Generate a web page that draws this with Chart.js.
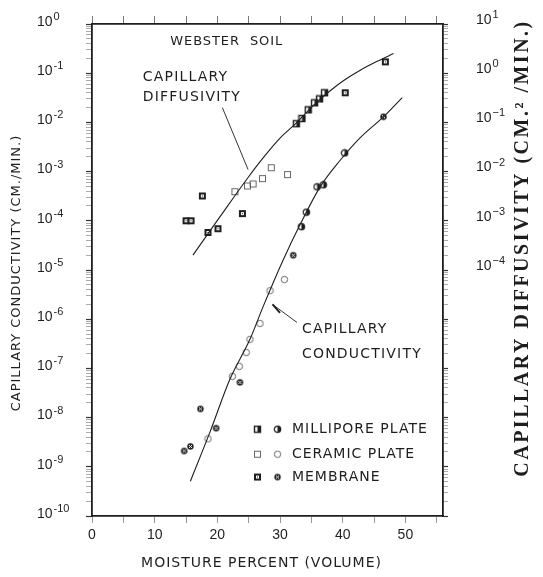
<!DOCTYPE html>
<html>
<head>
<meta charset="utf-8">
<script src="https://cdn.jsdelivr.net/npm/chart.js@4"></script>
<style>
  html, body { margin: 0; padding: 0; background: #fff; }
</style>
</head>
<body>
<canvas id="chart" width="543" height="577"></canvas>
<script>
// Webster soil, moisture percent (volume) vs capillary diffusivity / conductivity

// capillary diffusivity, cm2/min (right axis)
let diffMilliporeX = [32.6, 33.5, 34.5, 35.5, 36.3, 37.1];
let diffMilliporeY = [0.094, 0.12, 0.18, 0.25, 0.30, 0.40];
let diffCeramicX = [22.8, 24.8, 25.7, 27.2, 28.6, 31.2];
let diffCeramicY = [3.9e-3, 5.1e-3, 5.6e-3, 7.2e-3, 1.2e-2, 8.7e-3];
let diffMembraneX = [15.0, 15.8, 17.6, 18.5, 20.1, 24.0, 40.4, 46.8];
let diffMembraneY = [1.0e-3, 1.0e-3, 3.2e-3, 5.8e-4, 6.9e-4, 1.4e-3, 0.40, 1.7];

// capillary conductivity, cm/min (left axis)
let condMilliporeX = [33.4, 34.2, 35.9, 36.9, 40.3];
let condMilliporeY = [7.6e-5, 1.5e-4, 4.9e-4, 5.4e-4, 2.4e-3];
let condCeramicX = [18.5, 22.4, 23.5, 24.6, 25.2, 26.8, 28.4, 30.7];
let condCeramicY = [3.7e-9, 6.9e-8, 1.1e-7, 2.1e-7, 3.9e-7, 8.2e-7, 3.8e-6, 6.4e-6];
let condMembraneX = [14.7, 15.7, 17.3, 19.8, 23.6, 32.1, 46.5];
let condMembraneY = [2.1e-9, 2.6e-9, 1.5e-8, 6.1e-9, 5.2e-8, 2.0e-5, 1.3e-2];

// fitted curves
let diffCurveX = [16.1, 20.4, 24.9, 27.3, 30.0, 32.7, 35.3, 38.0, 40.5, 42.8, 45.5, 48.1];
let diffCurveY = [2.0e-4, 1.2e-3, 7.6e-3, 0.019, 0.048, 0.10, 0.22, 0.44, 0.76, 1.15, 1.74, 2.5];
let condCurveX = [15.7, 18.8, 22.0, 25.2, 27.3, 30.5, 33.2, 36.4, 39.6, 42.8, 46.5, 49.5];
let condCurveY = [5.1e-10, 5.0e-9, 6.0e-8, 3.9e-7, 1.8e-6, 1.6e-5, 8.4e-5, 4.9e-4, 1.7e-3, 4.9e-3, 1.3e-2, 3.2e-2];

// axis ticks
let xTicks = [0, 5, 10, 15, 20, 25, 30, 35, 40, 45, 50, 55];
let leftExps = [0, -1, -2, -3, -4, -5, -6, -7, -8, -9, -10];
let rightExps = [1, 0, -1, -2, -3, -4];
let legendNames = ['MILLIPORE PLATE', 'CERAMIC PLATE', 'MEMBRANE'];

const INK = '#1e1e1e';
const SANS = '"DejaVu Sans", sans-serif';

function pts(xs, ys) {
  return xs.map((x, i) => ({ x: x, y: ys[i] }));
}

function logTicks(lo, hi) {
  let t = [];
  for (let e = lo; e < hi; e++) {
    for (let m = 1; m < 10; m++) t.push({ value: m * Math.pow(10, e) });
  }
  t.push({ value: Math.pow(10, hi) });
  return t;
}

function isDecade(v) {
  let l = Math.log10(v);
  return Math.abs(l - Math.round(l)) < 1e-6;
}

// little glyphs for the three methods
function marker(shape, kind) {
  let c = document.createElement('canvas');
  c.width = 9; c.height = 9;
  let g = c.getContext('2d');
  g.strokeStyle = INK; g.fillStyle = INK;
  if (shape === 'square') {
    if (kind === 'ceramic') {
      g.strokeStyle = '#666'; g.lineWidth = 1;
      g.strokeRect(1.5, 1.5, 6, 6);
    } else if (kind === 'millipore') {
      g.lineWidth = 1.4;
      g.strokeRect(1.5, 1.5, 6, 6);
      g.fillRect(4.5, 2, 3, 5);
    } else {
      g.fillRect(1, 1, 7, 7);
      g.fillStyle = '#fff';
      g.fillRect(3, 3, 3, 3);
      g.fillStyle = INK;
      g.fillRect(4, 4, 1, 1);
    }
  } else {
    g.beginPath();
    g.arc(4.5, 4.5, 3.2, 0, Math.PI * 2);
    if (kind === 'ceramic') {
      g.strokeStyle = '#666'; g.lineWidth = 1;
      g.stroke();
    } else if (kind === 'millipore') {
      g.lineWidth = 1.2; g.stroke();
      g.beginPath();
      g.arc(4.5, 4.5, 3.2, -Math.PI / 2, Math.PI / 2);
      g.closePath(); g.fill();
    } else {
      g.fill();
      g.strokeStyle = '#fff'; g.lineWidth = 1;
      g.beginPath();
      g.moveTo(3, 3); g.lineTo(6, 6); g.moveTo(6, 3); g.lineTo(3, 6);
      g.stroke();
    }
  }
  return c;
}

const mk = {
  sqMillipore: marker('square', 'millipore'),
  sqCeramic: marker('square', 'ceramic'),
  sqMembrane: marker('square', 'membrane'),
  ciMillipore: marker('circle', 'millipore'),
  ciCeramic: marker('circle', 'ceramic'),
  ciMembrane: marker('circle', 'membrane')
};

function pointSet(label, data, style, axis) {
  return {
    label: label, data: data, yAxisID: axis,
    pointStyle: style, pointRadius: 4, pointHoverRadius: 4,
    showLine: false
  };
}

function curveSet(label, data, axis) {
  return {
    label: label, data: data, yAxisID: axis,
    showLine: true, pointRadius: 0, borderColor: INK, borderWidth: 1.1,
    cubicInterpolationMode: 'monotone', fill: false
  };
}

// 10 with a raised exponent, left aligned at x
function drawPow(ctx, x, y, e, minus) {
  ctx.font = '14px "Liberation Sans", sans-serif';
  ctx.textAlign = 'left';
  ctx.textBaseline = 'middle';
  ctx.fillText('10', x, y);
  let w = ctx.measureText('10').width;
  ctx.font = '11px "Liberation Sans", sans-serif';
  ctx.fillText(String(e).replace('-', minus), x + w + 1, y - 5);
}

function spaced(ctx, text, x, y, font, gap, align) {
  ctx.font = font;
  ctx.letterSpacing = gap + 'px';
  ctx.textAlign = align || 'left';
  ctx.textBaseline = 'middle';
  ctx.fillText(text, x, y);
  ctx.letterSpacing = '0px';
}

const decor = {
  id: 'decor',
  afterDraw(chart) {
    const { ctx, scales, chartArea } = chart;
    const px = v => scales.x.getPixelForValue(v);
    const py = v => scales.y.getPixelForValue(v);
    ctx.save();
    ctx.fillStyle = INK;
    ctx.strokeStyle = INK;

    leftExps.forEach(e => drawPow(ctx, chartArea.left - 55, scales.y.getPixelForValue(Math.pow(10, e)) - 2, e, '-'));
    rightExps.forEach(e => drawPow(ctx, chartArea.right + 33, scales.y2.getPixelForValue(Math.pow(10, e)) - 4, e, '\u2212'));

    // axis titles
    spaced(ctx, 'MOISTURE PERCENT (VOLUME)', (chartArea.left + chartArea.right) / 2 - 6, chartArea.bottom + 47,
      '14px ' + SANS, 1, 'center');

    ctx.save();
    ctx.translate(17, (chartArea.top + chartArea.bottom) / 2 + 3);
    ctx.rotate(-Math.PI / 2);
    spaced(ctx, 'CAPILLARY CONDUCTIVITY (CM./MIN.)', 0, 0, '13px ' + SANS, 1, 'center');
    ctx.restore();

    ctx.save();
    ctx.translate(chartArea.right + 80, (chartArea.top + chartArea.bottom) / 2 - 22);
    ctx.rotate(-Math.PI / 2);
    spaced(ctx, 'CAPILLARY DIFFUSIVITY (CM.\u00B2 /MIN.)', 0, 0, 'bold 20px "Liberation Serif", serif', 2.5, 'center');
    ctx.restore();

    // labels inside the plot
    spaced(ctx, 'WEBSTER  SOIL', px(12.5), py(0.43), '13px ' + SANS, 0.9);
    spaced(ctx, 'CAPILLARY', px(8.1), py(0.084), '14px ' + SANS, 1.2);
    spaced(ctx, 'DIFFUSIVITY', px(8.1), py(0.033), '14px ' + SANS, 1.2);
    spaced(ctx, 'CAPILLARY', px(33.5), py(6.2e-7), '14px ' + SANS, 1.2);
    spaced(ctx, 'CONDUCTIVITY', px(33.5), py(1.9e-7), '14px ' + SANS, 1.2);

    // leader lines
    ctx.lineWidth = 0.9;
    ctx.beginPath();
    ctx.moveTo(px(20.8), py(0.020));
    ctx.lineTo(px(24.9), py(1.1e-3));
    ctx.moveTo(px(32.7), py(8.6e-7));
    ctx.lineTo(px(28.8), py(2.0e-6));
    ctx.stroke();
    ctx.lineWidth = 1.8;
    ctx.beginPath();
    ctx.moveTo(px(28.8), py(2.0e-6));
    ctx.lineTo(px(30.0), py(1.35e-6));
    ctx.stroke();

    // legend
    let ly = [py(5.8e-9), py(1.8e-9), py(6.2e-10)];
    let sq = [mk.sqMillipore, mk.sqCeramic, mk.sqMembrane];
    let ci = [mk.ciMillipore, mk.ciCeramic, mk.ciMembrane];
    legendNames.forEach((name, i) => {
      ctx.drawImage(sq[i], px(26.4) - 4.5, ly[i] - 4.5);
      ctx.drawImage(ci[i], px(29.6) - 4.5, ly[i] - 4.5);
      spaced(ctx, name, px(31.9), ly[i], '14px ' + SANS, 1);
    });
    ctx.restore();
  }
};

new Chart(document.getElementById('chart'), {
  type: 'scatter',
  data: {
    datasets: [
      curveSet('Capillary diffusivity', pts(diffCurveX, diffCurveY), 'y2'),
      curveSet('Capillary conductivity', pts(condCurveX, condCurveY), 'y'),
      pointSet('Diffusivity, millipore plate', pts(diffMilliporeX, diffMilliporeY), mk.sqMillipore, 'y2'),
      pointSet('Diffusivity, ceramic plate', pts(diffCeramicX, diffCeramicY), mk.sqCeramic, 'y2'),
      pointSet('Diffusivity, membrane', pts(diffMembraneX, diffMembraneY), mk.sqMembrane, 'y2'),
      pointSet('Conductivity, millipore plate', pts(condMilliporeX, condMilliporeY), mk.ciMillipore, 'y'),
      pointSet('Conductivity, ceramic plate', pts(condCeramicX, condCeramicY), mk.ciCeramic, 'y'),
      pointSet('Conductivity, membrane', pts(condMembraneX, condMembraneY), mk.ciMembrane, 'y')
    ]
  },
  options: {
    responsive: false,
    animation: false,
    devicePixelRatio: 1,
    layout: { padding: 0 },
    plugins: { legend: { display: false }, tooltip: { enabled: false } },
    scales: {
      x: {
        type: 'linear', position: 'bottom', min: 0, max: 56,
        afterBuildTicks: s => { s.ticks = xTicks.map(v => ({ value: v })); },
        afterFit: s => { s.height = 61; },
        ticks: {
          autoSkip: false, maxRotation: 0, padding: 4, color: INK,
          font: { family: '"Liberation Sans", sans-serif', size: 14 },
          callback: v => (v % 10 === 0 ? String(v) : '')
        },
        grid: { drawOnChartArea: false, tickLength: 7, tickColor: '#999' },
        border: { color: INK, width: 1.8 }
      },
      xTop: {
        type: 'linear', position: 'top', min: 0, max: 56,
        afterBuildTicks: s => { s.ticks = xTicks.map(v => ({ value: v })); },
        afterFit: s => { s.height = 24; },
        ticks: { display: false },
        grid: { drawOnChartArea: false, tickLength: 8, tickColor: '#777' },
        border: { color: INK, width: 1.8 }
      },
      y: {
        type: 'logarithmic', position: 'left', min: 1e-10, max: 1,
        afterBuildTicks: s => { s.ticks = logTicks(-10, 0); },
        afterFit: s => { s.width = 92; },
        ticks: { autoSkip: false, callback: () => '' },
        grid: {
          drawOnChartArea: false, tickLength: 6,
          tickColor: c => (isDecade(c.tick.value) ? '#333' : '#888'),
          tickWidth: c => (isDecade(c.tick.value) ? 1.2 : 0.7)
        },
        border: { color: INK, width: 1.8 }
      },
      y2: {
        type: 'logarithmic', position: 'right', min: 1e-9, max: 10,
        afterBuildTicks: s => { s.ticks = logTicks(-9, 1); },
        afterFit: s => { s.width = 100; },
        ticks: { autoSkip: false, callback: () => '' },
        grid: {
          drawOnChartArea: false, tickLength: 5,
          tickColor: c => (isDecade(c.tick.value) ? '#333' : '#888'),
          tickWidth: c => (isDecade(c.tick.value) ? 1.2 : 0.7)
        },
        border: { color: INK, width: 1.8 }
      }
    }
  },
  plugins: [decor]
});
</script>
</body>
</html>
